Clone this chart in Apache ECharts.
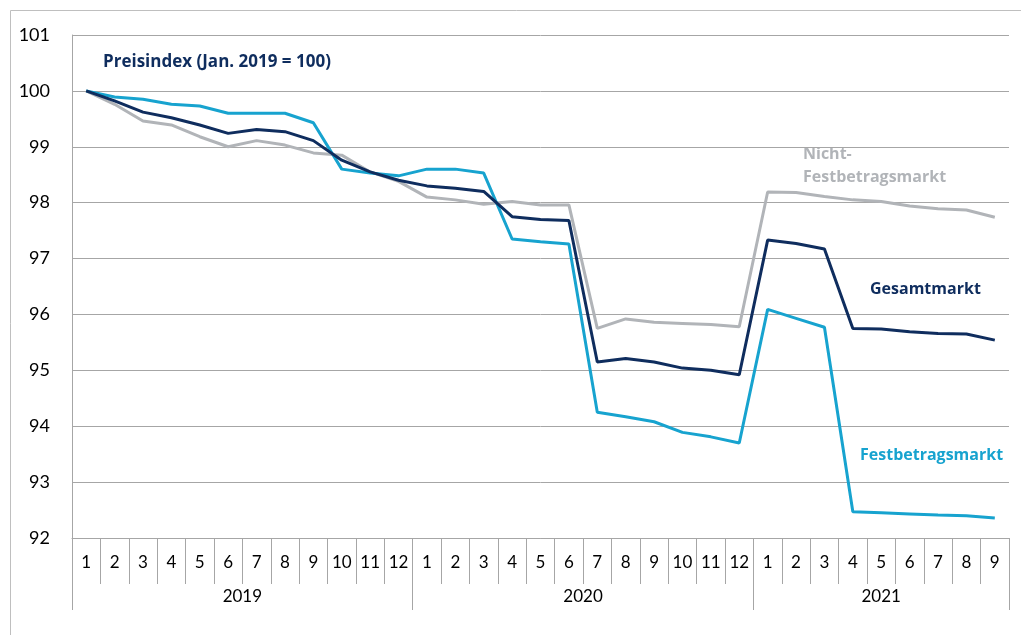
<!DOCTYPE html>
<html>
<head>
<meta charset="utf-8">
<script src="https://cdn.jsdelivr.net/npm/echarts@6/dist/echarts.min.js"></script>
<style>
  html, body { margin: 0; padding: 0; background: #fff; }
  #main { width: 1021px; height: 635px; }
</style>
</head>
<body>
<div id="main"></div>
<script>
// Monate Jan 2019 - Sep 2021
const months = [
  "1", "2", "3", "4", "5", "6", "7", "8", "9", "10", "11", "12",
  "1", "2", "3", "4", "5", "6", "7", "8", "9", "10", "11", "12",
  "1", "2", "3", "4", "5", "6", "7", "8", "9"
];
const years = ["2019", "2020", "2021"];
const yearBounds = [0, 12, 24, 33];
const yearCenters = [6, 18, 28.5];

const gesamtmarkt = [
  100, 99.82, 99.62, 99.52, 99.39, 99.24, 99.31, 99.27, 99.11, 98.76, 98.55, 98.40,
  98.30, 98.26, 98.20, 97.75, 97.70, 97.68, 95.15, 95.21, 95.15, 95.04, 95.00, 94.92,
  97.33, 97.27, 97.17, 95.75, 95.74, 95.69, 95.66, 95.65, 95.54
];
const festbetragsmarkt = [
  100, 99.89, 99.85, 99.76, 99.73, 99.60, 99.60, 99.60, 99.43, 98.60, 98.53, 98.48,
  98.60, 98.60, 98.53, 97.35, 97.30, 97.26, 94.25, 94.17, 94.08, 93.89, 93.81, 93.70,
  96.09, 95.93, 95.77, 92.47, 92.45, 92.43, 92.41, 92.40, 92.36
];
const nichtFestbetragsmarkt = [
  100, 99.76, 99.46, 99.39, 99.18, 99.00, 99.11, 99.03, 98.89, 98.85, 98.55, 98.38,
  98.10, 98.05, 97.97, 98.02, 97.96, 97.96, 95.75, 95.92, 95.86, 95.84, 95.82, 95.78,
  98.19, 98.18, 98.11, 98.05, 98.02, 97.94, 97.89, 97.87, 97.74
];

const gridColor = "#a6a6a6";
const font = "Lato, 'Open Sans', sans-serif";
const noteFont = "'Open Sans', Lato, sans-serif";

let myChart = echarts.init(document.getElementById("main"));
let option = {
  animation: false,
  textStyle: { fontFamily: font },
  grid: { left: 72, right: 12, top: 35, bottom: 97 },
  xAxis: [
    {
      type: "category",
      data: months,
      position: "bottom",
      boundaryGap: true,
      axisLine: { show: true, lineStyle: { color: gridColor, width: 1 } },
      axisTick: { show: true, interval: 0, length: 46, lineStyle: { color: gridColor } },
      axisLabel: { interval: 0, color: "#000", fontSize: 17, margin: 16, fontFamily: font },
      splitLine: { show: false },
    },
    {
      type: "value",
      min: 0,
      max: 33,
      position: "bottom",
      axisLine: { show: false },
      axisTick: { show: true, length: 72, customValues: yearBounds, lineStyle: { color: gridColor } },
      axisLabel: {
        customValues: yearCenters,
        color: "#000",
        fontSize: 17,
        margin: 50,
        fontFamily: font,
        formatter: (v) => years[yearCenters.indexOf(v)] || "",
      },
      splitLine: { show: false },
    },
  ],
  yAxis: {
    type: "value",
    min: 92,
    max: 101,
    interval: 1,
    axisLine: { show: true, lineStyle: { color: gridColor, width: 1 } },
    axisTick: { show: false },
    axisLabel: { color: "#000", fontSize: 18, margin: 22, fontFamily: font },
    splitLine: { show: true, lineStyle: { color: gridColor, width: 1 } },
  },
  series: [
    {
      name: "Nicht-Festbetragsmarkt",
      type: "line",
      data: nichtFestbetragsmarkt,
      symbol: "none",
      lineStyle: { color: "#b1b4b8", width: 3 },
      z: 2,
    },
    {
      name: "Festbetragsmarkt",
      type: "line",
      data: festbetragsmarkt,
      symbol: "none",
      lineStyle: { color: "#17a3cf", width: 3 },
      z: 3,
    },
    {
      name: "Gesamtmarkt",
      type: "line",
      data: gesamtmarkt,
      symbol: "none",
      lineStyle: { color: "#0f2d5e", width: 3 },
      z: 4,
    },
  ],
  graphic: [
    {
      type: "rect",
      shape: { x: 10.5, y: 10.5, width: 1100, height: 700 },
      style: { fill: "none", stroke: "#bfbfbf", lineWidth: 1 },
      silent: true,
    },
    {
      type: "text",
      left: 103,
      top: 54,
      style: { text: "Preisindex (Jan. 2019 = 100)", fill: "#0f2d5e", font: "bold 17px " + noteFont },
    },
    {
      type: "text",
      left: 803,
      top: 143,
      style: { text: "Nicht-\nFestbetragsmarkt", fill: "#b1b4b8", font: "bold 16px " + noteFont, lineHeight: 23 },
    },
    {
      type: "text",
      left: 870,
      top: 281,
      style: { text: "Gesamtmarkt", fill: "#0f2d5e", font: "bold 16px " + noteFont },
    },
    {
      type: "text",
      left: 860,
      top: 447,
      style: { text: "Festbetragsmarkt", fill: "#17a3cf", font: "bold 16px " + noteFont },
    },
  ],
};
myChart.setOption(option);
</script>
</body>
</html>
